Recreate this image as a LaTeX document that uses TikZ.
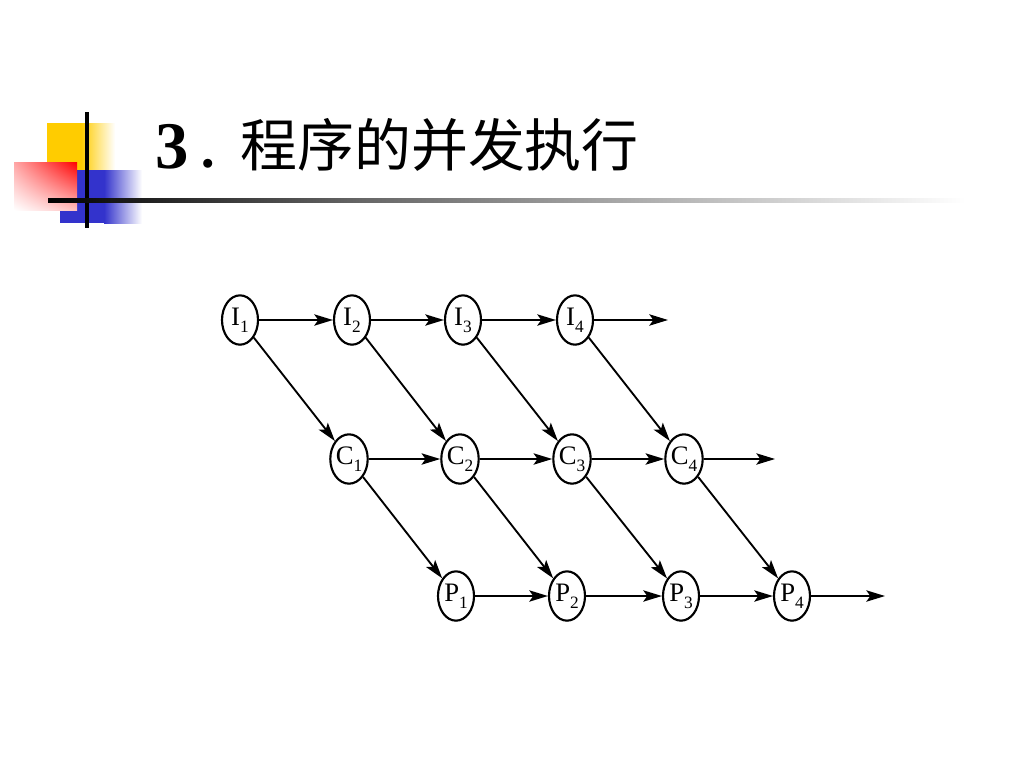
\documentclass[tikz,border=0pt]{standalone}
\usepackage{fontspec}
\setmainfont{Liberation Serif}
\newfontfamily\cjk{Noto Sans CJK SC}
\usetikzlibrary{shapes.geometric,arrows.meta,shadings}
\definecolor{decoyellow}{RGB}{255,204,0}
\definecolor{decoblue}{RGB}{51,51,204}
\newcommand{\lab}[2]{#1\raisebox{-0.55ex}{\fontsize{13}{13}\selectfont #2}}
\begin{document}
\begin{tikzpicture}[x=0.75pt,y=-0.75pt,
  proc/.style={ellipse,draw,line width=1.6pt,minimum width=27pt,minimum height=37pt,inner sep=0pt,font=\fontsize{20}{20}\selectfont},
  flow/.style={line width=1.4pt,-{Stealth[length=14pt,width=8.5pt,inset=3pt]}},
]
\useasboundingbox (0,0) rectangle (1024,768);
% decoration
\shade[left color=decoyellow, right color=white, middle color=decoyellow] (47,123) rectangle (115,180);
\fill[decoblue] (60,170) rectangle (104,223);
\shade[left color=decoblue, right color=white] (104,170) rectangle (142,223);
\shade[upper right=red, upper left={red!35!white}, lower right={red!25!white}, lower left=white] (14,162) rectangle (77,210);
\draw[line width=3pt] (87,112) -- (87,228);
\shade[left color=black, right color=black!60] (48,198) rectangle (360,202.5);
\shade[left color=black!60, right color=white] (360,198) rectangle (965,202.5);
% title
\node[anchor=base west, inner sep=0pt] (t3) at (155,168) {\fontsize{50}{50}\selectfont\bfseries 3};
\node[anchor=base west, inner sep=0pt] (tdot) at (194,168) {\cjk\fontsize{43}{43}\selectfont ．};
\node[anchor=base west, inner sep=0pt] (title) at (240,166) {\cjk\fontsize{42.7}{42.7}\selectfont 程序的并发执行};
% nodes
\node[proc] (I1) at (240,320) {\lab{I}{1}};
\node[proc] (I2) at (352,320) {\lab{I}{2}};
\node[proc] (I3) at (463,320) {\lab{I}{3}};
\node[proc] (I4) at (575,320) {\lab{I}{4}};
\node[proc] (C1) at (349,459) {\lab{C}{1}};
\node[proc] (C2) at (460,459) {\lab{C}{2}};
\node[proc] (C3) at (572,459) {\lab{C}{3}};
\node[proc] (C4) at (684,459) {\lab{C}{4}};
\node[proc] (P1) at (456,596) {\lab{P}{1}};
\node[proc] (P2) at (567,596) {\lab{P}{2}};
\node[proc] (P3) at (681,596) {\lab{P}{3}};
\node[proc] (P4) at (792,596) {\lab{P}{4}};
\coordinate (Ie) at (668,320);
\coordinate (Ce) at (775,459);
\coordinate (Pe) at (885,596);
% edges
\draw[flow] (I1) -- (I2);
\draw[flow] (I2) -- (I3);
\draw[flow] (I3) -- (I4);
\draw[flow] (I4) -- (Ie);
\draw[flow] (C1) -- (C2);
\draw[flow] (C2) -- (C3);
\draw[flow] (C3) -- (C4);
\draw[flow] (C4) -- (Ce);
\draw[flow] (P1) -- (P2);
\draw[flow] (P2) -- (P3);
\draw[flow] (P3) -- (P4);
\draw[flow] (P4) -- (Pe);
\foreach \k in {1,2,3,4}{
  \draw[flow] (I\k) -- (C\k);
  \draw[flow] (C\k) -- (P\k);
}
\end{tikzpicture}
\end{document}
